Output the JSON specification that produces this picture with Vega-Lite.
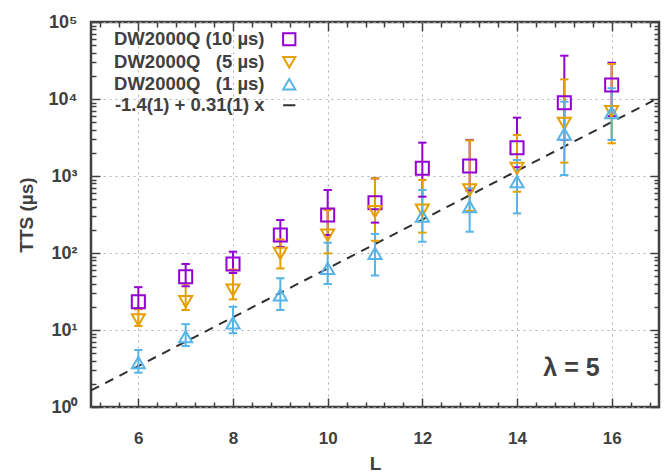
{
  "$schema": "https://vega.github.io/schema/vega-lite/v6.json",
  "width": 568,
  "height": 385,
  "autosize": "none",
  "padding": {"left": 91, "top": 22, "right": 8, "bottom": 69},
  "background": "white",
  "config": {
    "view": {"stroke": "#404040", "strokeWidth": 2.5},
    "axis": {
      "domain": false,
      "tickColor": "#404040",
      "tickWidth": 1.5,
      "labelColor": "#404040",
      "labelFont": "Liberation Sans",
      "labelFontWeight": "bold",
      "labelFontSize": 17,
      "titleColor": "#404040",
      "titleFont": "Liberation Sans",
      "titleFontWeight": "bold",
      "titleFontSize": 19
    },
    "legend": {
      "orient": "none",
      "legendX": 189,
      "legendY": 8,
      "title": null,
      "labelFont": "Liberation Sans",
      "labelFontWeight": "bold",
      "labelFontSize": 18.5,
      "labelColor": "#404040",
      "labelAlign": "right",
      "labelOffset": -34,
      "labelLimit": 300,
      "symbolSize": 150,
      "symbolStrokeWidth": 2,
      "rowPadding": 2
    }
  },
  "datasets": {
    "pts": [
      {"L": 6, "series": "DW2000Q (10 µs)", "tts": 23.3, "lo": 19, "hi": 36},
      {"L": 7, "series": "DW2000Q (10 µs)", "tts": 49, "lo": 37, "hi": 72},
      {"L": 8, "series": "DW2000Q (10 µs)", "tts": 72, "lo": 55, "hi": 104},
      {"L": 9, "series": "DW2000Q (10 µs)", "tts": 171, "lo": 120, "hi": 268},
      {"L": 10, "series": "DW2000Q (10 µs)", "tts": 312, "lo": 171, "hi": 658},
      {"L": 11, "series": "DW2000Q (10 µs)", "tts": 450, "lo": 248, "hi": 931},
      {"L": 12, "series": "DW2000Q (10 µs)", "tts": 1260, "lo": 539, "hi": 2710},
      {"L": 13, "series": "DW2000Q (10 µs)", "tts": 1350, "lo": 650, "hi": 2940},
      {"L": 14, "series": "DW2000Q (10 µs)", "tts": 2330, "lo": 1300, "hi": 5720},
      {"L": 15, "series": "DW2000Q (10 µs)", "tts": 8960, "lo": 2940, "hi": 36500},
      {"L": 16, "series": "DW2000Q (10 µs)", "tts": 15200, "lo": 6000, "hi": 29600},
      {"L": 6, "series": "DW2000Q\u00a0\u00a0\u00a0(5 µs)", "tts": 13.5, "lo": 11.3, "hi": 18.6},
      {"L": 7, "series": "DW2000Q\u00a0\u00a0\u00a0(5 µs)", "tts": 23.3, "lo": 18.2, "hi": 40},
      {"L": 8, "series": "DW2000Q\u00a0\u00a0\u00a0(5 µs)", "tts": 33, "lo": 25, "hi": 61},
      {"L": 9, "series": "DW2000Q\u00a0\u00a0\u00a0(5 µs)", "tts": 99, "lo": 63, "hi": 150},
      {"L": 10, "series": "DW2000Q\u00a0\u00a0\u00a0(5 µs)", "tts": 171, "lo": 99, "hi": 362},
      {"L": 11, "series": "DW2000Q\u00a0\u00a0\u00a0(5 µs)", "tts": 344, "lo": 144, "hi": 931},
      {"L": 12, "series": "DW2000Q\u00a0\u00a0\u00a0(5 µs)", "tts": 361, "lo": 184, "hi": 887},
      {"L": 13, "series": "DW2000Q\u00a0\u00a0\u00a0(5 µs)", "tts": 658, "lo": 352, "hi": 2900},
      {"L": 14, "series": "DW2000Q\u00a0\u00a0\u00a0(5 µs)", "tts": 1260, "lo": 625, "hi": 3408},
      {"L": 15, "series": "DW2000Q\u00a0\u00a0\u00a0(5 µs)", "tts": 4830, "lo": 1490, "hi": 18000},
      {"L": 16, "series": "DW2000Q\u00a0\u00a0\u00a0(5 µs)", "tts": 6840, "lo": 2660, "hi": 28500},
      {"L": 6, "series": "DW2000Q\u00a0\u00a0\u00a0(1 µs)", "tts": 3.76, "lo": 2.79, "hi": 5.5},
      {"L": 7, "series": "DW2000Q\u00a0\u00a0\u00a0(1 µs)", "tts": 8.2, "lo": 6.2, "hi": 11.9},
      {"L": 8, "series": "DW2000Q\u00a0\u00a0\u00a0(1 µs)", "tts": 12.4, "lo": 9.1, "hi": 20},
      {"L": 9, "series": "DW2000Q\u00a0\u00a0\u00a0(1 µs)", "tts": 28.5, "lo": 18.2, "hi": 47},
      {"L": 10, "series": "DW2000Q\u00a0\u00a0\u00a0(1 µs)", "tts": 63, "lo": 39.5, "hi": 136},
      {"L": 11, "series": "DW2000Q\u00a0\u00a0\u00a0(1 µs)", "tts": 99, "lo": 51, "hi": 177},
      {"L": 12, "series": "DW2000Q\u00a0\u00a0\u00a0(1 µs)", "tts": 302, "lo": 140, "hi": 658},
      {"L": 13, "series": "DW2000Q\u00a0\u00a0\u00a0(1 µs)", "tts": 399, "lo": 189, "hi": 692},
      {"L": 14, "series": "DW2000Q\u00a0\u00a0\u00a0(1 µs)", "tts": 844, "lo": 327, "hi": 1614},
      {"L": 15, "series": "DW2000Q\u00a0\u00a0\u00a0(1 µs)", "tts": 3510, "lo": 1030, "hi": 9220},
      {"L": 16, "series": "DW2000Q\u00a0\u00a0\u00a0(1 µs)", "tts": 6640, "lo": 2940, "hi": 13800}
    ],
    "fit": [
      {"L": 5, "series": "-1.4(1) + 0.31(1) x", "tts": 1.64},
      {"L": 17, "series": "-1.4(1) + 0.31(1) x", "tts": 10400}
    ],
    "lab": [
      {"L": 15.15, "tts": 3.2, "label": "λ = 5"}
    ]
  },
  "layer": [
    {
      "data": {"name": "fit"},
      "mark": {"type": "line", "strokeDash": [9, 7], "strokeWidth": 2},
      "encoding": {
        "x": {
          "field": "L", "type": "quantitative",
          "scale": {"domain": [5, 17], "nice": false, "zero": false},
          "axis": {
            "orient": "bottom",
            "title": "L",
            "titlePadding": 8,
            "values": [6, 8, 10, 12, 14, 16],
            "ticks": false,
            "grid": true,
            "gridColor": "#b0b0b0",
            "gridDash": [2, 4],
            "gridWidth": 1,
            "labelPadding": 23,
            "labelOverlap": false
          }
        },
        "y": {
          "field": "tts", "type": "quantitative",
          "scale": {"type": "log", "domain": [1, 100000], "nice": false},
          "axis": {
            "orient": "left",
            "title": "TTS (µs)",
            "titlePadding": 12,
            "values": [1, 10, 100, 1000, 10000, 100000],
            "labelExpr": "'10' + ['⁰','¹','²','³','⁴','⁵'][round(log(datum.value)/LN10)]",
            "ticks": false,
            "grid": true,
            "gridColor": "#b0b0b0",
            "gridDash": [2, 4],
            "gridWidth": 1,
            "labelPadding": 14,
            "labelFontSize": 18,
            "labelOverlap": false
          }
        },
        "color": {
          "field": "series", "type": "nominal",
          "scale": {
            "domain": ["DW2000Q (10 µs)", "DW2000Q\u00a0\u00a0\u00a0(5 µs)", "DW2000Q\u00a0\u00a0\u00a0(1 µs)", "-1.4(1) + 0.31(1) x"],
            "range": ["#9400D3", "#E69F00", "#56B4E9", "#303030"]
          }
        }
      }
    },
    {
      "data": {"name": "pts"},
      "mark": {"type": "rule", "strokeWidth": 2},
      "encoding": {
        "x": {
          "field": "L", "type": "quantitative",
          "scale": {"domain": [5, 17], "nice": false, "zero": false},
          "axis": {"orient": "bottom", "title": null, "labels": false, "grid": false, "values": [6, 8, 10, 12, 14, 16], "ticks": true, "tickSize": 9, "offset": -9, "tickColor": "#404040", "tickWidth": 1.5}
        },
        "y": {
          "field": "lo", "type": "quantitative",
          "scale": {"type": "log", "domain": [1, 100000], "nice": false},
          "axis": {"orient": "left", "title": null, "labels": false, "grid": false, "values": [1, 10, 100, 1000, 10000, 100000], "ticks": true, "tickSize": 9, "offset": -9, "tickColor": "#404040", "tickWidth": 1.5}
        },
        "y2": {"field": "hi"},
        "color": {"field": "series", "type": "nominal"}
      }
    },
    {
      "data": {"name": "pts"},
      "mark": {"type": "point", "shape": "stroke", "filled": false, "size": 70, "strokeWidth": 2, "opacity": 1},
      "encoding": {
        "x": {
          "field": "L", "type": "quantitative",
          "scale": {"domain": [5, 17], "nice": false, "zero": false},
          "axis": {"orient": "bottom", "title": null, "labels": false, "grid": false, "values": [5.2, 5.6, 6.4, 6.8, 7.2, 7.6, 8.4, 8.8, 9.2, 9.6, 10.4, 10.8, 11.2, 11.6, 12.4, 12.8, 13.2, 13.6, 14.4, 14.8, 15.2, 15.6, 16.4, 16.8], "ticks": true, "tickSize": 5, "offset": -5, "tickColor": "#404040", "tickWidth": 1.5}
        },
        "y": {
          "field": "lo", "type": "quantitative",
          "scale": {"type": "log", "domain": [1, 100000], "nice": false},
          "axis": {"orient": "left", "title": null, "labels": false, "grid": false, "values": [2, 3, 4, 5, 6, 7, 8, 9, 20, 30, 40, 50, 60, 70, 80, 90, 200, 300, 400, 500, 600, 700, 800, 900, 2000, 3000, 4000, 5000, 6000, 7000, 8000, 9000, 20000, 30000, 40000, 50000, 60000, 70000, 80000, 90000], "ticks": true, "tickSize": 5, "offset": -5, "tickColor": "#404040", "tickWidth": 1.5}
        },
        "color": {"field": "series", "type": "nominal"}
      }
    },
    {
      "data": {"name": "pts"},
      "mark": {"type": "point", "shape": "stroke", "filled": false, "size": 70, "strokeWidth": 2, "opacity": 1},
      "encoding": {
        "x": {
          "field": "L", "type": "quantitative",
          "scale": {"domain": [5, 17], "nice": false, "zero": false},
          "axis": {"orient": "top", "title": null, "labels": false, "grid": false, "values": [6, 8, 10, 12, 14, 16], "ticks": true, "tickSize": 9, "offset": -9, "tickColor": "#404040", "tickWidth": 1.5}
        },
        "y": {
          "field": "hi", "type": "quantitative",
          "scale": {"type": "log", "domain": [1, 100000], "nice": false},
          "axis": {"orient": "right", "title": null, "labels": false, "grid": false, "values": [1, 10, 100, 1000, 10000, 100000], "ticks": true, "tickSize": 9, "offset": -9, "tickColor": "#404040", "tickWidth": 1.5}
        },
        "color": {"field": "series", "type": "nominal"}
      }
    },
    {
      "data": {"name": "pts"},
      "mark": {"type": "point", "filled": false, "strokeWidth": 2, "opacity": 1, "size": 170},
      "encoding": {
        "x": {
          "field": "L", "type": "quantitative",
          "scale": {"domain": [5, 17], "nice": false, "zero": false},
          "axis": {"orient": "top", "title": null, "labels": false, "grid": false, "values": [5.2, 5.6, 6.4, 6.8, 7.2, 7.6, 8.4, 8.8, 9.2, 9.6, 10.4, 10.8, 11.2, 11.6, 12.4, 12.8, 13.2, 13.6, 14.4, 14.8, 15.2, 15.6, 16.4, 16.8], "ticks": true, "tickSize": 5, "offset": -5, "tickColor": "#404040", "tickWidth": 1.5}
        },
        "y": {
          "field": "tts", "type": "quantitative",
          "scale": {"type": "log", "domain": [1, 100000], "nice": false},
          "axis": {"orient": "right", "title": null, "labels": false, "grid": false, "values": [2, 3, 4, 5, 6, 7, 8, 9, 20, 30, 40, 50, 60, 70, 80, 90, 200, 300, 400, 500, 600, 700, 800, 900, 2000, 3000, 4000, 5000, 6000, 7000, 8000, 9000, 20000, 30000, 40000, 50000, 60000, 70000, 80000, 90000], "ticks": true, "tickSize": 5, "offset": -5, "tickColor": "#404040", "tickWidth": 1.5}
        },
        "color": {"field": "series", "type": "nominal"},
        "shape": {
          "field": "series", "type": "nominal",
          "scale": {
            "domain": ["DW2000Q (10 µs)", "DW2000Q\u00a0\u00a0\u00a0(5 µs)", "DW2000Q\u00a0\u00a0\u00a0(1 µs)", "-1.4(1) + 0.31(1) x"],
            "range": ["square", "triangle-down", "triangle-up", "stroke"]
          }
        }
      }
    },
    {
      "data": {"name": "lab"},
      "mark": {"type": "text", "font": "Liberation Sans", "fontWeight": "bold", "fontSize": 25, "color": "#404040", "align": "center", "baseline": "middle"},
      "encoding": {
        "x": {"field": "L", "type": "quantitative", "scale": {"domain": [5, 17], "nice": false, "zero": false}, "axis": null},
        "y": {"field": "tts", "type": "quantitative", "scale": {"type": "log", "domain": [1, 100000], "nice": false}, "axis": null},
        "text": {"field": "label"}
      }
    }
  ],
  "resolve": {"axis": {"x": "independent", "y": "independent"}}
}
